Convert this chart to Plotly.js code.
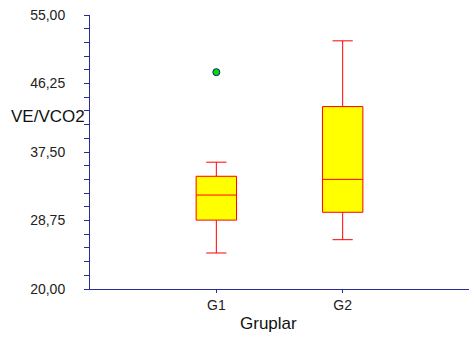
<!DOCTYPE html>
<html>
<head>
<meta charset="utf-8">
<script src="https://cdn.plot.ly/plotly-3.0.1.min.js"></script>
<style>html,body{margin:0;padding:0;background:#fff;}#chart{width:469px;height:345px;}</style>
</head>
<body>
<div id="chart"></div>
<script>
var groups = ['G1', 'G2'];
var lowerWhisker = [24.6, 26.3];
var q1 = [28.8, 29.8];
var medians = [32.0, 34.0];
var q3 = [34.4, 43.3];
var upperWhisker = [36.2, 51.7];
var outlierGroups = ['G1'];
var outlierValues = [47.7];
var yTickVals = [20, 28.75, 37.5, 46.25, 55];

var axisColor = '#2b2b99';
var fontFam = '"Liberation Sans", Arial, sans-serif';

var data = [
  {
    type: 'box',
    x: groups,
    q1: q1,
    median: medians,
    q3: q3,
    lowerfence: lowerWhisker,
    upperfence: upperWhisker,
    width: 0.32,
    whiskerwidth: 0.5,
    fillcolor: '#ffff00',
    line: {color: '#ff0000', width: 1},
    boxpoints: false,
    hoverinfo: 'skip',
    showlegend: false
  },
  {
    type: 'scatter',
    mode: 'markers',
    x: outlierGroups,
    y: outlierValues,
    marker: {color: '#00e000', size: 7, line: {color: '#1a1a80', width: 1}},
    showlegend: false,
    hoverinfo: 'skip'
  }
];

var layout = {
  width: 469,
  height: 345,
  margin: {l: 90, r: 0, t: 15, b: 56},
  paper_bgcolor: '#ffffff',
  plot_bgcolor: '#ffffff',
  separators: ',.',
  font: {family: fontFam, color: '#222222', size: 14},
  showlegend: false,
  xaxis: {
    type: 'category',
    range: [-1, 2],
    showline: true,
    linecolor: axisColor,
    linewidth: 1,
    showgrid: false,
    zeroline: false,
    ticks: 'outside',
    ticklen: 3,
    tickwidth: 1,
    tickcolor: axisColor,
    tickfont: {size: 14, family: fontFam, color: '#222222'}
  },
  yaxis: {
    range: [20, 55],
    showline: true,
    linecolor: axisColor,
    linewidth: 1,
    showgrid: false,
    zeroline: false,
    tickmode: 'array',
    tickvals: yTickVals,
    tickformat: '.2f',
    ticks: 'outside',
    ticklen: 5,
    tickwidth: 1,
    tickcolor: axisColor,
    ticklabelstandoff: 16,
    tickfont: {size: 14, family: fontFam, color: '#222222'},
    minor: {dtick: 1.75, tick0: 20, ticks: 'outside', ticklen: 5, tickwidth: 1, tickcolor: axisColor, showgrid: false}
  },
  annotations: [
    {
      text: 'VE/VCO2',
      xref: 'paper', yref: 'y',
      x: 0, y: 42.0,
      xanchor: 'right', yanchor: 'middle',
      xshift: -3,
      showarrow: false,
      font: {size: 17, family: fontFam, color: '#111111'}
    },
    {
      text: 'Gruplar',
      xref: 'x', yref: 'paper',
      x: 0.41, y: 0,
      xanchor: 'center', yanchor: 'middle',
      yshift: -34,
      showarrow: false,
      font: {size: 17, family: fontFam, color: '#111111'}
    }
  ]
};

Plotly.newPlot('chart', data, layout, {staticPlot: true, displayModeBar: false});
</script>
</body>
</html>
